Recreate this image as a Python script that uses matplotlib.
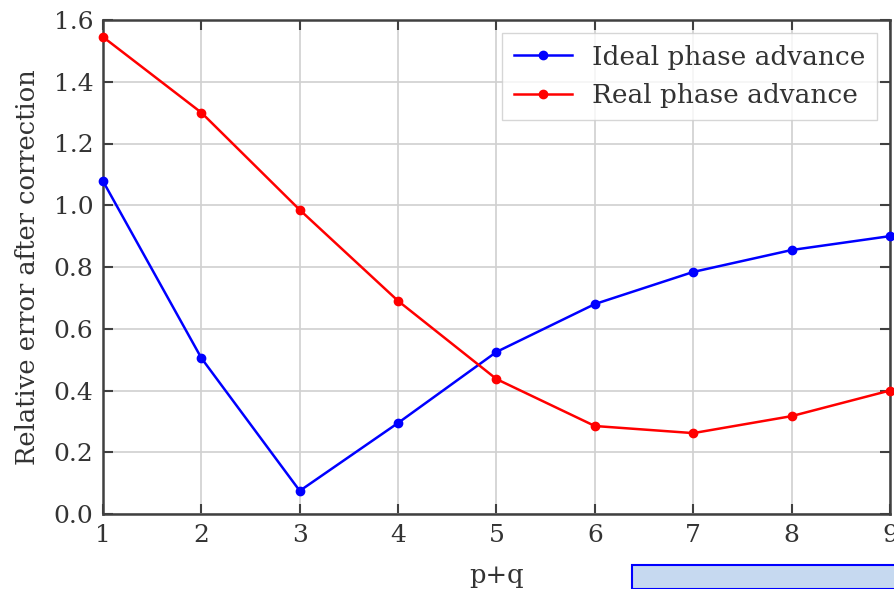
import matplotlib
matplotlib.use("Agg")
import matplotlib.pyplot as plt
from matplotlib.patches import Rectangle

pq = [1, 2, 3, 4, 5, 6, 7, 8, 9]
ideal = [1.078, 0.505, 0.075, 0.295, 0.525, 0.680, 0.784, 0.855, 0.900]
real = [1.545, 1.300, 0.985, 0.690, 0.437, 0.285, 0.262, 0.317, 0.400]
yticks = [0.0, 0.2, 0.4, 0.6, 0.8, 1.0, 1.2, 1.4, 1.6]

plt.rcParams['font.family'] = ['DejaVu Serif']

W, H = 894, 589
fig = plt.figure(figsize=(W / 100, H / 100), dpi=100)
ax = fig.add_axes([103 / W, (H - 514) / H, (890 - 103) / W, (514 - 20) / H])

ax.plot(pq, ideal, '-o', color='blue', lw=1.8, ms=6, label='Ideal phase advance', clip_on=False, zorder=3)
ax.plot(pq, real, '-o', color='red', lw=1.8, ms=6, label='Real phase advance', clip_on=False, zorder=3)

ax.set_xlim(1, 9)
ax.set_ylim(0, 1.6)
ax.set_xticks(pq)
ax.set_yticks(yticks)
ax.set_yticklabels([f"{v:.1f}" for v in yticks])
ax.grid(True, color='#d0d0d0', lw=1.2)
ax.set_axisbelow(True)
for s in ax.spines.values():
    s.set_color('#404040')
    s.set_linewidth(1.8)
ax.tick_params(direction='in', length=7, width=1.5, color='#404040', labelsize=18,
               labelcolor='#333333', top=True, right=True, pad=7)
ax.set_xlabel('p+q', fontsize=18.5, color='#333333', labelpad=12)
ax.set_ylabel('Relative error after correction', fontsize=18.5, color='#333333', labelpad=10)

leg = ax.legend(loc='upper right', fontsize=19, frameon=True, fancybox=False,
                bbox_to_anchor=(0.9835, 0.974), borderaxespad=0.0, handlelength=2.2,
                borderpad=0.45, labelspacing=0.5, handletextpad=0.75)
leg.get_frame().set_edgecolor('#cccccc')
leg.get_frame().set_linewidth(1.0)
for t in leg.get_texts():
    t.set_color('#333333')

rect = Rectangle((632 / W, 0), (W - 632) / W + 0.01, (H - 565) / H, transform=fig.transFigure,
                 facecolor='#c6d9f0', edgecolor='blue', lw=1.5, clip_on=False)
fig.patches.append(rect)

fig.savefig('out.png', dpi=100)
